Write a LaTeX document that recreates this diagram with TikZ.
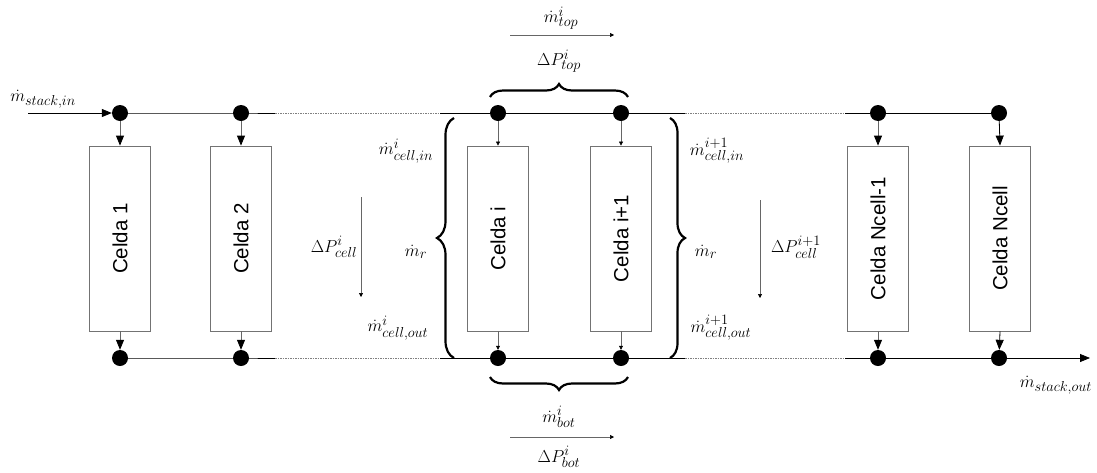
\documentclass[tikz,border=0pt]{standalone}
\usepackage{fontspec}
\newfontfamily\cellfont{Liberation Sans}
\usetikzlibrary{arrows.meta,decorations.pathreplacing}
\DeclareMathSizes{19}{19}{15}{11}
\begin{document}
\begin{tikzpicture}[x=1pt,y=-1pt,
  dot/.style={circle,fill=black,inner sep=0pt,minimum size=16pt},
  cellbox/.style={draw=black!55,line width=0.8pt,minimum width=61pt,minimum height=185pt,inner sep=0pt,font=\cellfont\fontsize{20.5}{24}\selectfont},
  bigarr/.style={-{Triangle[length=10pt,width=8pt]},line width=0.8pt},
  grayarr/.style={-{Triangle[length=10pt,width=8pt,color=black]},draw=black!60,line width=0.8pt},
  smallarr/.style={-{Triangle[length=4pt,width=4pt,color=black]},draw=black!60,line width=0.6pt},
  mainline/.style={line width=1pt},
  dotline/.style={draw=black!50,line width=0.8pt,dash pattern=on 1.5pt off 1pt},
  lbl/.style={font=\fontsize{19}{22}\selectfont,inner sep=1pt},
  bracestyle/.style={decorate,decoration={brace,amplitude=#1},line width=2.2pt},
]
\useasboundingbox (0,0) rectangle (1097,472);
% dots
\foreach \n/\x in {1/120,2/241,3/498,4/621,5/878,6/999}{
  \node[dot] (t\n) at (\x,113) {};
  \node[dot] (b\n) at (\x,358) {};
}
% cells
\node[cellbox] (c1) at (120,238.5) {\rotatebox{90}{Celda 1}};
\node[cellbox] (c2) at (241,238.5) {\rotatebox{90}{Celda 2}};
\node[cellbox] (c3) at (498,238.5) {\rotatebox{90}{Celda i}};
\node[cellbox] (c4) at (621,238.5) {\rotatebox{90}{Celda i+1}};
\node[cellbox] (c5) at (878,238.5) {\rotatebox{90}{Celda Ncell-1}};
\node[cellbox] (c6) at (1000,238.5) {\rotatebox{90}{Celda Ncell}};
% coordinates for manifold lines
\coordinate (in) at (28,113);
\coordinate (ta) at (275,113);
\coordinate (tb) at (440,113);
\coordinate (tc) at (685,113);
\coordinate (td) at (845,113);
\coordinate (ba) at (275,358);
\coordinate (bb) at (440,358);
\coordinate (bc) at (685,358);
\coordinate (bd) at (845,358);
\coordinate (out) at (1090,358);
% top manifold
\draw[bigarr] (in) -- (t1);
\draw[mainline] (t1.center) -- (t2.center) -- (ta);
\draw[dotline] (ta) -- (tb);
\draw[mainline] (tb) -- (tc);
\draw[dotline] (tc) -- (td);
\draw[mainline] (td) -- (t6.center);
% bottom manifold
\draw[mainline] (b1.center) -- (b2.center) -- (ba);
\draw[dotline] (ba) -- (bb);
\draw[mainline] (bb) -- (bc);
\draw[dotline] (bc) -- (bd);
\draw[bigarr] (bd) -- (out);
% feed arrows
\draw[grayarr] (t1) -- (c1.north);
\draw[grayarr] (t2) -- (c2.north);
\draw[smallarr] (t3) -- (c3.north);
\draw[smallarr] (t4) -- (c4.north);
\draw[grayarr] (t5) -- (c5.north);
\draw[bigarr] (t6) -- (c6.north);
\draw[grayarr] (c1.south) -- (b1);
\draw[grayarr] (c2.south) -- (b2);
\draw[smallarr] (c3.south) -- (b3);
\draw[smallarr] (c4.south) -- (b4);
\draw[grayarr] (c5.south) -- (b5);
\draw[bigarr] (c6.south) -- (b6);
% braces
\coordinate (tbr1) at (490,97);
\coordinate (tbr2) at (628,97);
\coordinate (bbr1) at (628,377);
\coordinate (bbr2) at (490,377);
\coordinate (lbr1) at (454,358);
\coordinate (lbr2) at (454,118);
\coordinate (rbr1) at (670,118);
\coordinate (rbr2) at (670,358);
\draw[bracestyle=13] (tbr1) -- (tbr2);
\draw[bracestyle=13] (bbr1) -- (bbr2);
\draw[bracestyle=17] (lbr1) -- (lbr2);
\draw[bracestyle=15] (rbr1) -- (rbr2);
% labels
\node[lbl] (lin) at (43,99) {$\dot m_{stack,in}$};
\node[lbl] (lout) at (1056,385) {$\dot m_{stack,out}$};
\node[lbl] (mtop) at (561,18) {$\dot m^{i}_{top}$};
\node[lbl] (dptop) at (559,61) {$\Delta P^{i}_{top}$};
\coordinate (mta) at (510,35);
\coordinate (mtb) at (614,35);
\draw[smallarr] (mta) -- (mtb);
\node[lbl] (mbot) at (559,417) {$\dot m^{i}_{bot}$};
\node[lbl] (dpbot) at (559,457) {$\Delta P^{i}_{bot}$};
\coordinate (mba) at (510,437);
\coordinate (mbb) at (614,437);
\draw[smallarr] (mba) -- (mbb);
\node[lbl] (mcin) at (406,151) {$\dot m^{i}_{cell,in}$};
\node[lbl] (mcin2) at (717,151) {$\dot m^{i+1}_{cell,in}$};
\node[lbl] (mr) at (416,252) {$\dot m_{r}$};
\node[lbl] (mr2) at (706,252) {$\dot m_{r}$};
\node[lbl] (mcout) at (398,328) {$\dot m^{i}_{cell,out}$};
\node[lbl] (mcout2) at (721,328) {$\dot m^{i+1}_{cell,out}$};
\node[lbl] (dpc) at (334,247) {$\Delta P^{i}_{cell}$};
\node[lbl] (dpc2) at (796,247) {$\Delta P^{i+1}_{cell}$};
\coordinate (pa) at (361,197);
\coordinate (pb) at (361,297);
\coordinate (pc) at (760,200);
\coordinate (pd) at (760,298);
\draw[smallarr] (pa) -- (pb);
\draw[smallarr] (pc) -- (pd);
\end{tikzpicture}
\end{document}
